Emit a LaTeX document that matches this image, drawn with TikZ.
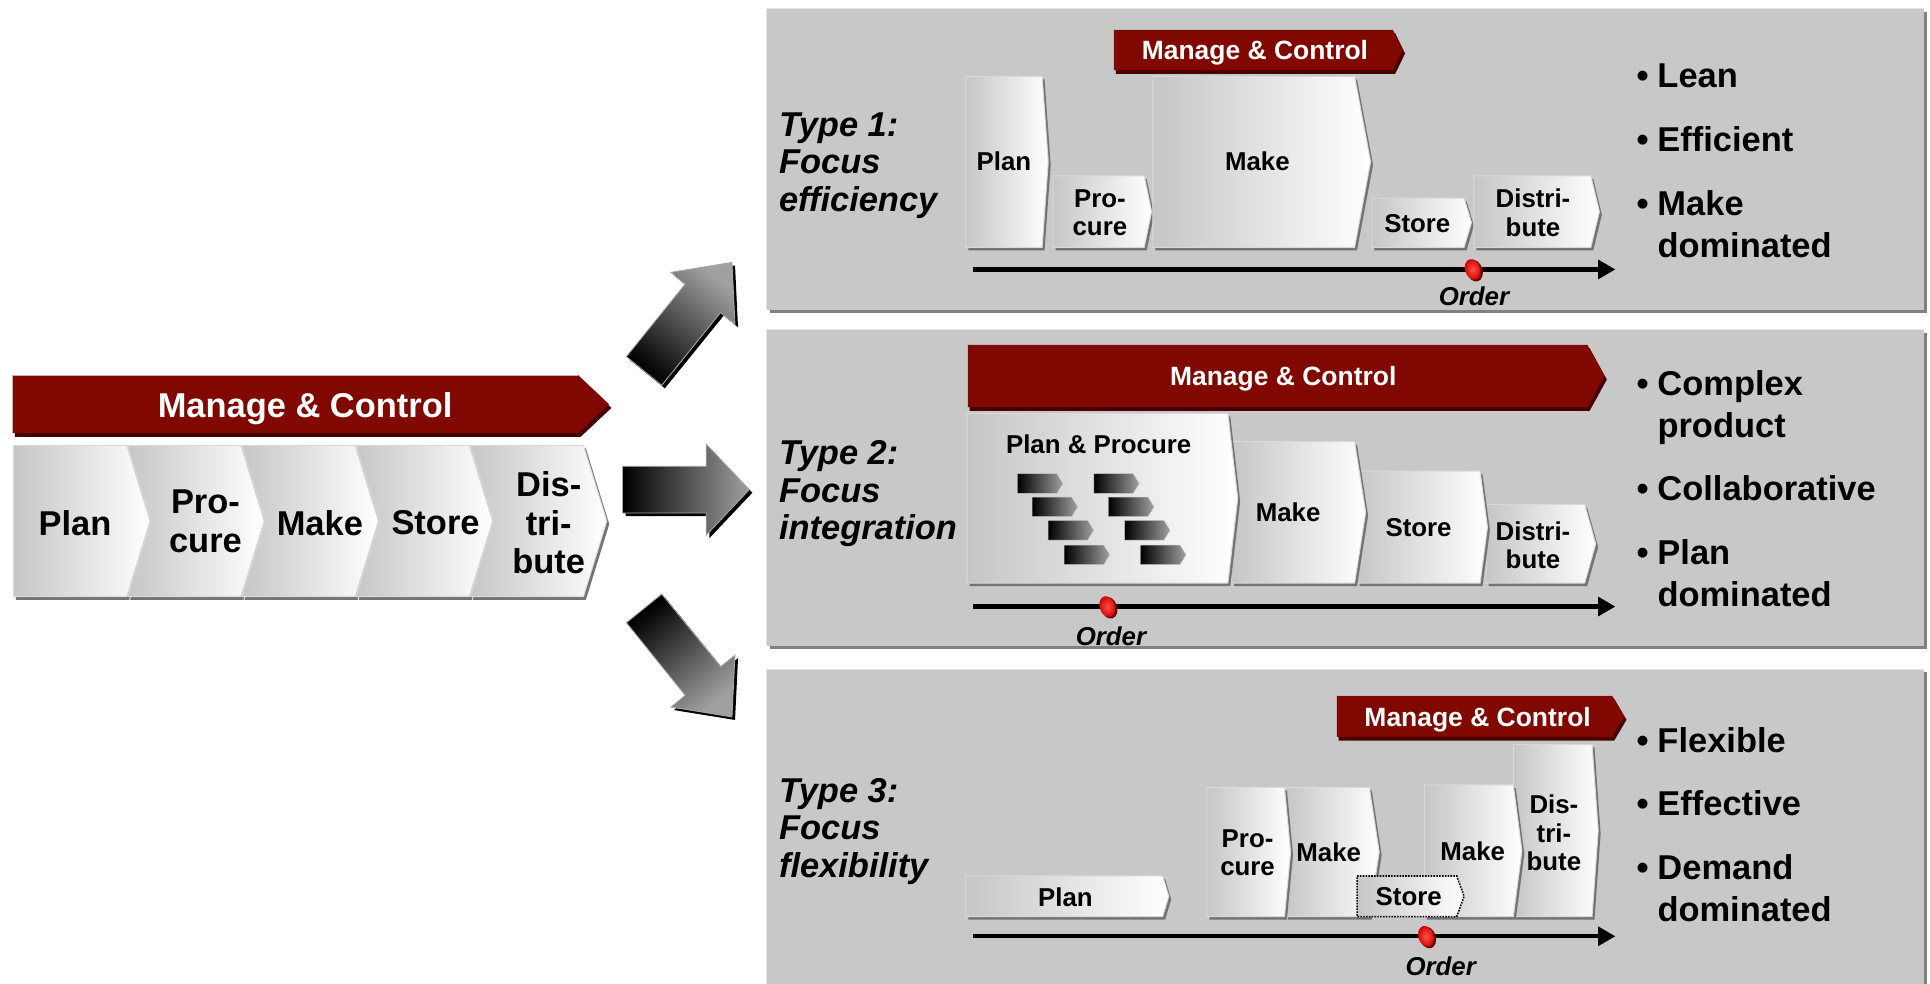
\documentclass[tikz,border=0pt]{standalone}
\usepackage{fontspec}
\setmainfont{Liberation Sans}
\usetikzlibrary{arrows.meta}
\definecolor{mcred}{RGB}{128,8,0}
\definecolor{mcdark}{RGB}{70,0,0}
\definecolor{panelbg}{RGB}{200,200,200}
\definecolor{panelshadow}{RGB}{128,128,128}
\definecolor{boxl}{RGB}{198,198,198}
\definecolor{boxshadow}{RGB}{115,115,115}
\definecolor{dotin}{RGB}{255,80,70}
\definecolor{dotout}{RGB}{205,0,0}
\definecolor{dotdark}{RGB}{110,0,0}
\definecolor{arrgray}{RGB}{160,160,160}

\tikzset{
  txt/.style={inner sep=0pt, align=center, font=\bfseries\fontsize{21}{23}\selectfont},
  bigtxt/.style={inner sep=0pt, align=center, font=\bfseries\fontsize{28}{31.5}\selectfont},
  mctxt/.style={inner sep=0pt, text=white, font=\bfseries\fontsize{21.5}{24}\selectfont},
  typetxt/.style={inner sep=0pt, anchor=west, align=left, font=\bfseries\itshape\fontsize{28}{30.5}\selectfont},
  bultxt/.style={inner sep=0pt, anchor=west, align=left, font=\bfseries\fontsize{28}{34}\selectfont},
  ordtxt/.style={inner sep=0pt, font=\bfseries\itshape\fontsize{21}{23}\selectfont},
  tline/.style={line width=3.5pt, -{Triangle[length=14pt,width=15pt]}},
}

\newcommand{\bitem}{\makebox[17pt][l]{\textbullet}}
\newcommand{\bsp}{\hspace*{17pt}}

% x0 y0 x1 y1 tipdepth notchdepth
\newcommand{\grbox}[6]{%
  \fill[boxshadow] ({#1+2},{#2+2.5}) -- ({#3+2},{#2+2.5}) -- ({#3+#5+2},{(#2+#4)/2+2.5}) -- ({#3+2},{#4+2.5}) -- ({#1+2},{#4+2.5}) -- ({#1+#6+2},{(#2+#4)/2+2.5}) -- cycle;
  \shade[left color=boxl,right color=white,draw=white!70!gray,line width=0.8pt] (#1,#2) -- (#3,#2) -- ({#3+#5},{(#2+#4)/2}) -- (#3,#4) -- (#1,#4) -- ({#1+#6},{(#2+#4)/2}) -- cycle;}

% x0 y0 x1 y1 tipx
\newcommand{\mcban}[5]{%
  \fill[mcdark] ({#1+2},{#2+3}) -- ({#3+2},{#2+3}) -- ({#5+2},{(#2+#4)/2+3}) -- ({#3+2},{#4+3}) -- ({#1+2},{#4+3}) -- cycle;
  \fill[mcred] (#1,#2) -- (#3,#2) -- (#5,{(#2+#4)/2}) -- (#3,#4) -- (#1,#4) -- cycle;
  \draw[gray!55,line width=0.8pt] (#1,#4) -- (#1,#2) -- (#3,#2);}

\newcommand{\mypanel}[4]{%
  \fill[panelshadow] ({#1+2.5},{#2+2.5}) rectangle ({#3+2.5},{#4+2.5});
  \fill[panelbg] (#1,#2) rectangle (#3,#4);
  \draw[white!80!gray,line width=1.2pt] (#1,#4) -- (#1,#2) -- (#3,#2);}

% cx cy rot L1 L hw hh shadingangle
\newcommand{\bigarr}[8]{%
  \begin{scope}[shift={({#1+2.5},{#2+2.5})},rotate=#3]
    \fill[black] (0,-#6) -- (#4,-#6) -- (#4,-#7) -- (#5,0) -- (#4,#7) -- (#4,#6) -- (0,#6) -- cycle;
  \end{scope}
  \begin{scope}[shift={(#1,#2)},rotate=#3]
    \shade[top color=arrgray,bottom color=black,shading angle=#8,draw=gray!70,line width=0.7pt] (0,-#6) -- (#4,-#6) -- (#4,-#7) -- (#5,0) -- (#4,#7) -- (#4,#6) -- (0,#6) -- cycle;
  \end{scope}}

\newcommand{\minichev}[2]{%
  \shade[left color=black,right color=arrgray,draw=gray!45,line width=0.4pt] (#1,#2) -- ({#1+32},#2) -- ({#1+37},{#2+8}) -- ({#1+32},{#2+16}) -- (#1,{#2+16}) -- cycle;}

\newcommand{\orderdot}[2]{%
  \fill[dotdark, rotate around={18:({#1+1.5},{#2+1})}] ({#1+1.5},{#2+1}) ellipse [x radius=6.5pt, y radius=9pt];
  \shade[inner color=dotin, outer color=dotout, rotate around={18:(#1,#2)}] (#1,#2) ellipse [x radius=6.2pt, y radius=8.6pt];}

\begin{document}
\begin{tikzpicture}[x=1pt,y=-1pt]
\useasboundingbox (0,0) rectangle (1568.7,799);
\fill[white] (0,0) rectangle (1568.7,799);

% ---------- panels
\mypanel{623}{7}{1564}{252}
\mypanel{623}{268}{1564}{525}
\mypanel{623}{544}{1564}{812}

% ---------- left: generic chain
\mcban{10}{305}{470}{352}{495}
\node[bigtxt,text=white] (lmc) at (248,332) {Manage \& Control};
\grbox{11}{362}{103}{485}{19}{0}
\grbox{103.8}{362}{195.8}{485}{19}{19}
\grbox{196.6}{362}{288.6}{485}{19}{19}
\grbox{289.4}{362}{381.4}{485}{19}{19}
\grbox{382.2}{362}{474.2}{485}{19}{19}
\node[bigtxt] (lplan) at (61,425) {Plan};
\node[bigtxt] (lproc) at (167,424) {Pro-\\cure};
\node[bigtxt] (lmake) at (260,425) {Make};
\node[bigtxt] (lstore) at (354,425) {Store};
\node[bigtxt] (ldist) at (446,425) {Dis-\\tri-\\bute};

% ---------- block arrows
\bigarr{523.5}{301.5}{51}{76}{113.5}{18.5}{33.5}{-39}
\bigarr{506}{398}{0}{68}{103}{19}{37}{-90}
\bigarr{523.5}{494.5}{-51}{76}{113.5}{18.5}{33.5}{-141}

% ---------- panel 1
\mcban{905}{24}{1132}{57}{1140}
\node[mctxt] (p1mc) at (1020,43) {Manage \& Control};
\grbox{785}{62}{847}{201}{5}{0}
\grbox{856}{143}{930}{201}{6}{0}
\grbox{937}{62}{1101}{201}{13}{0}
\grbox{1115}{161}{1190}{201}{6}{0}
\grbox{1198}{143}{1293}{201}{7}{0}
\node[txt] (p1plan) at (816,131) {Plan};
\node[txt] (p1proc) at (894,173) {Pro-\\cure};
\node[txt] (p1make) at (1022,131) {Make};
\node[txt] (p1store) at (1152,182) {Store};
\node[txt] (p1dist) at (1246,173) {Distri-\\bute};
\coordinate (t1s) at (791,219);
\coordinate (t1e) at (1313,219);
\draw[tline] (t1s) -- (t1e);
\orderdot{1197}{219}
\node[ordtxt] (p1ord) at (1198,241) {Order};
\node[typetxt] (p1type) at (633,134.5) {Type 1:\\Focus\\efficiency};
\node[bultxt] (p1b1) at (1330,62) {\bitem Lean};
\node[bultxt] (p1b2) at (1330,113) {\bitem Efficient};
\node[bultxt] (p1b3) at (1330,182) {\bitem Make\\\bsp dominated};

% ---------- panel 2
\mcban{786}{280}{1290}{331}{1304}
\node[mctxt] (p2mc) at (1043,308) {Manage \& Control};
\grbox{1208}{410}{1288}{474}{9}{0}
\grbox{1103}{383}{1203}{474}{6}{0}
\grbox{1001}{359}{1101}{474}{9}{0}
\grbox{786}{336}{998}{474}{8}{0}
\minichev{827}{385}
\minichev{839}{404}
\minichev{852}{423}
\minichev{865}{443}
\minichev{889}{385}
\minichev{901}{404}
\minichev{914}{423}
\minichev{927}{443}
\node[txt] (p2pp) at (893,361) {Plan \& Procure};
\node[txt] (p2make) at (1047,416) {Make};
\node[txt] (p2store) at (1153,429) {Store};
\node[txt] (p2dist) at (1246,443) {Distri-\\bute};
\coordinate (t2s) at (791,493);
\coordinate (t2e) at (1313,493);
\draw[tline] (t2s) -- (t2e);
\orderdot{900}{493}
\node[ordtxt] (p2ord) at (903,517) {Order};
\node[typetxt] (p2type) at (633,401.5) {Type 2:\\Focus\\integration};
\node[bultxt] (p2b1) at (1330,331) {\bitem Complex\\\bsp product};
\node[bultxt] (p2b2) at (1330,397) {\bitem Collaborative};
\node[bultxt] (p2b3) at (1330,466) {\bitem Plan\\\bsp dominated};

% ---------- panel 3
\mcban{1086}{565}{1310}{599}{1320}
\node[mctxt] (p3mc) at (1201,585) {Manage \& Control};
\grbox{1230}{605}{1294}{745}{5}{0}
\grbox{1158}{638}{1230}{745}{7}{0}
\grbox{1045}{640}{1113}{745}{8}{0}
\grbox{981}{640}{1044}{745}{5}{0}
\grbox{785}{712}{945}{745}{5}{0}
\shade[left color=boxl,right color=white,draw=black,line width=1.3pt,densely dotted] (1103,712) -- (1184,712) -- (1190,728.5) -- (1184,745) -- (1103,745) -- cycle;
\node[txt] (p3plan) at (866,729) {Plan};
\node[txt] (p3proc) at (1014,693) {Pro-\\cure};
\node[txt] (p3make1) at (1080,693) {Make};
\node[txt] (p3make2) at (1197,692) {Make};
\node[txt] (p3dist) at (1263,677) {Dis-\\tri-\\bute};
\node[txt] (p3store) at (1145,729) {Store};
\coordinate (t3s) at (791,761);
\coordinate (t3e) at (1313,761);
\draw[tline] (t3s) -- (t3e);
\orderdot{1159}{761}
\node[ordtxt] (p3ord) at (1171,785) {Order};
\node[typetxt] (p3type) at (633,675.5) {Type 3:\\Focus\\flexibility};
\node[bultxt] (p3b1) at (1330,602) {\bitem Flexible};
\node[bultxt] (p3b2) at (1330,653) {\bitem Effective};
\node[bultxt] (p3b3) at (1330,722) {\bitem Demand\\\bsp dominated};
\end{tikzpicture}
\end{document}
